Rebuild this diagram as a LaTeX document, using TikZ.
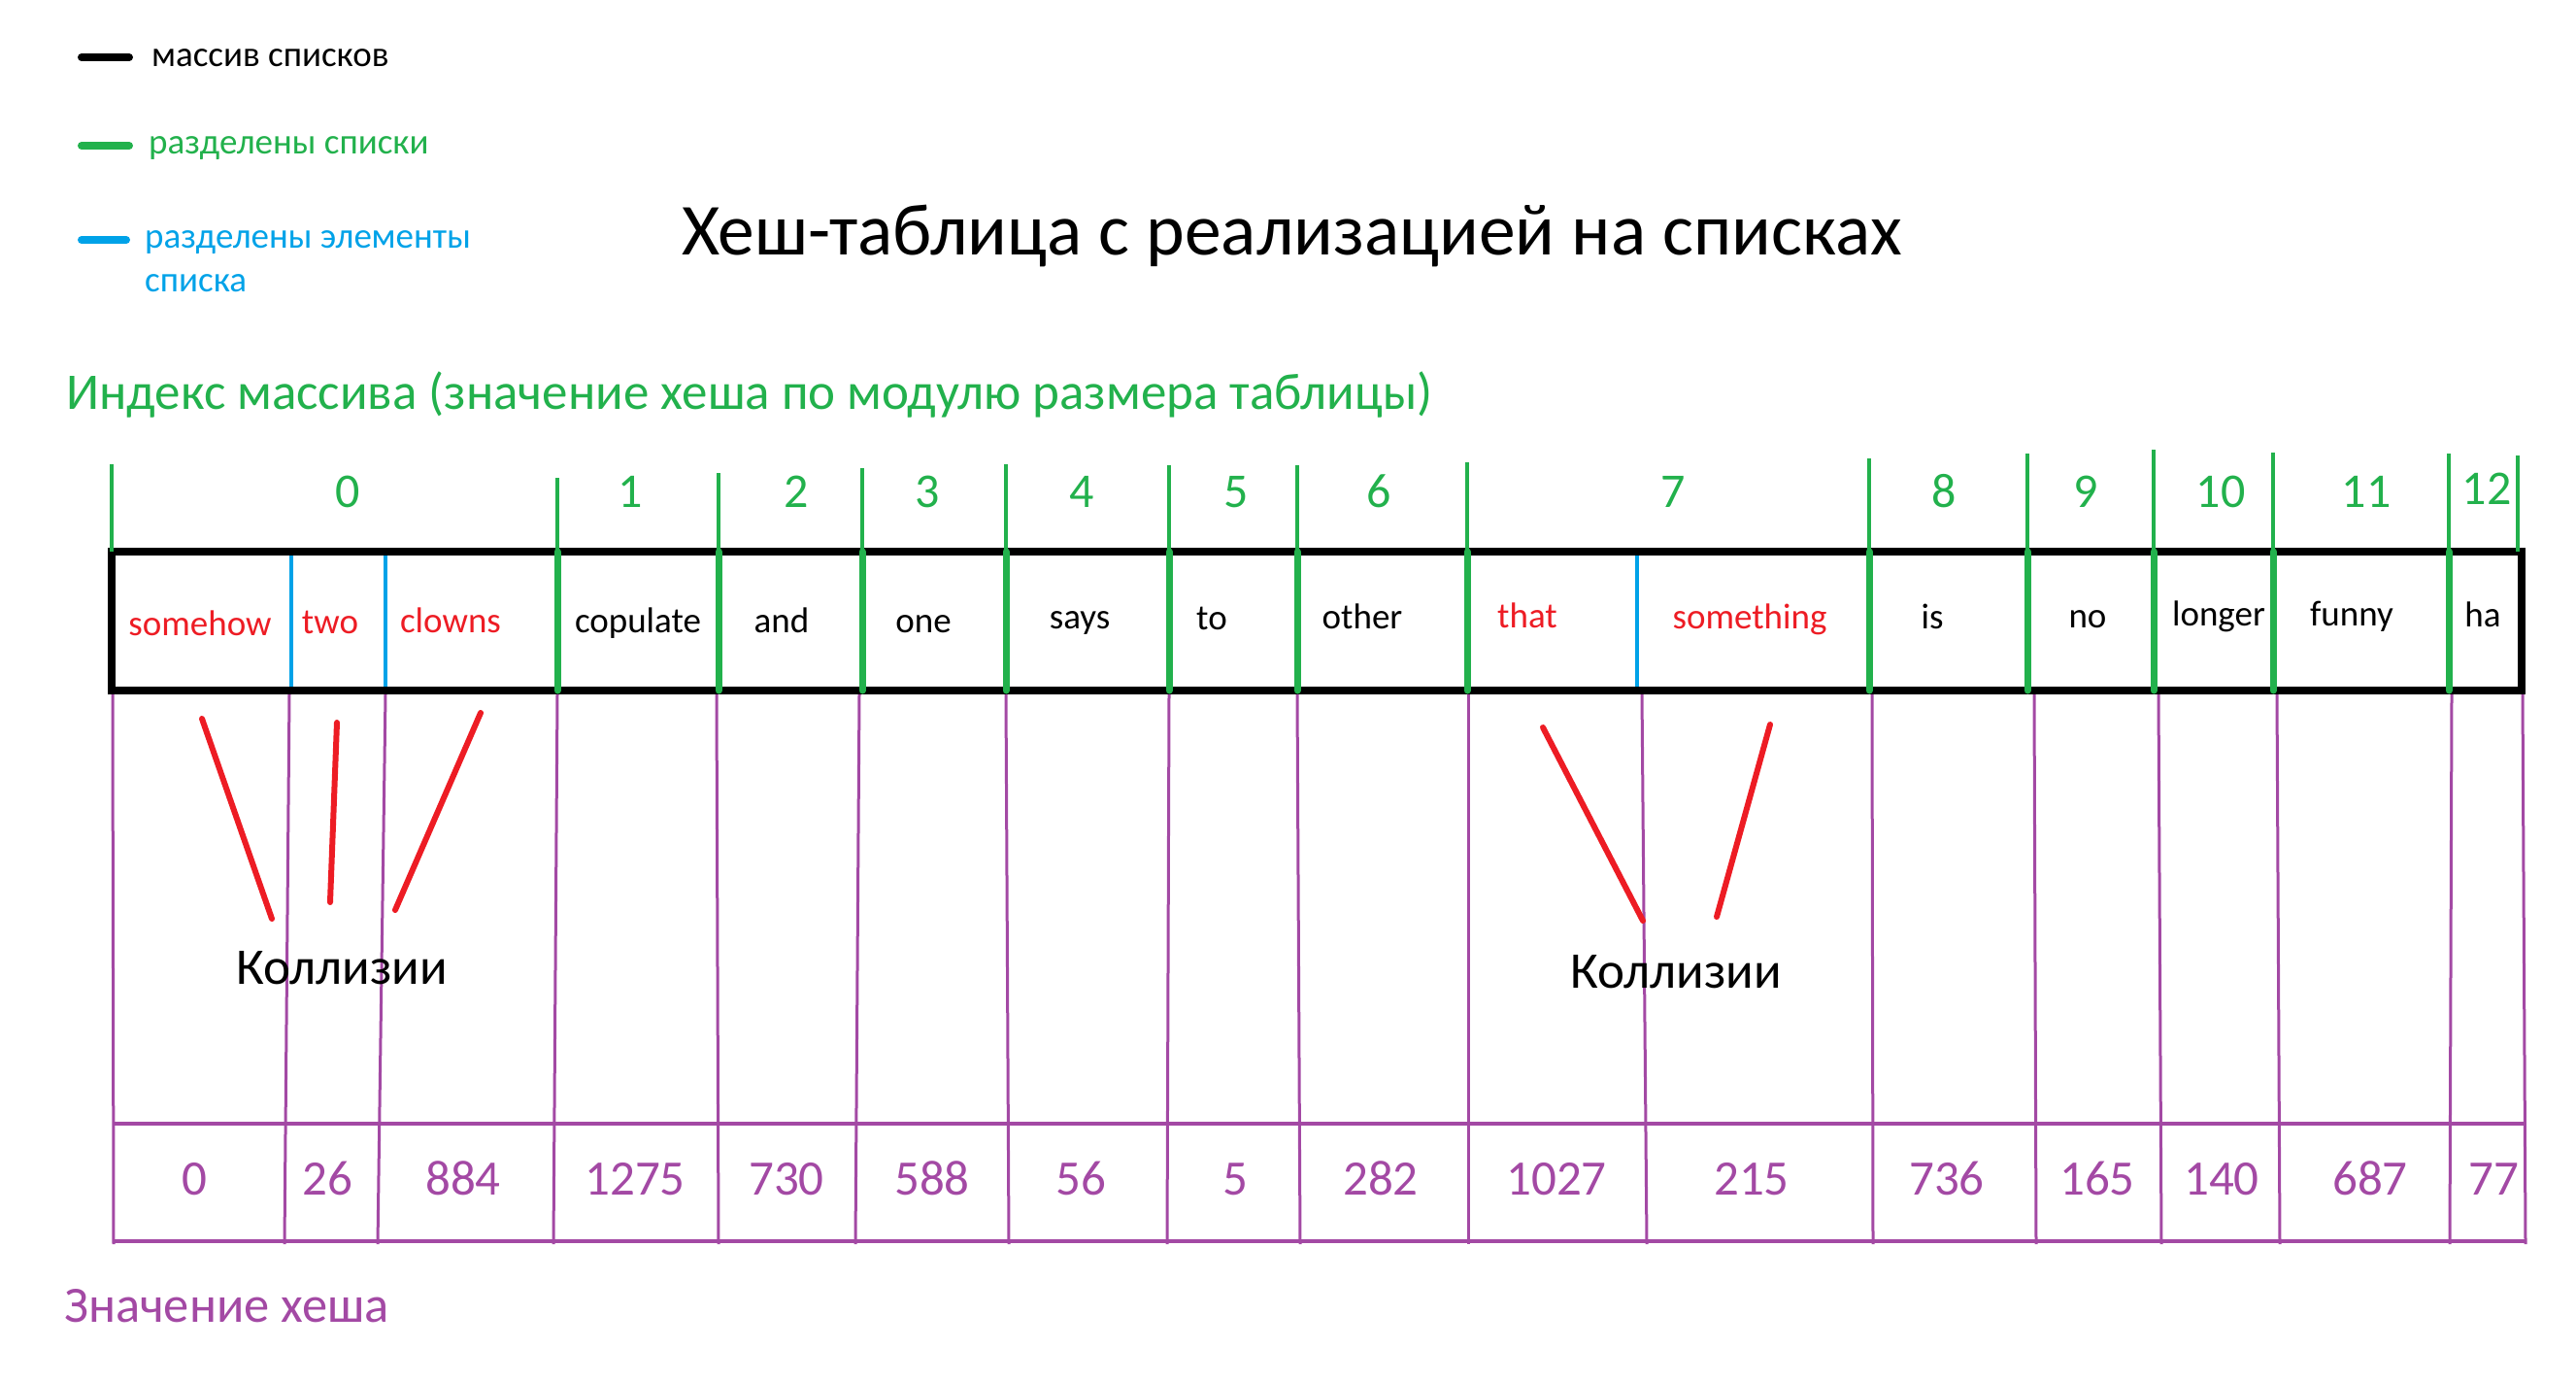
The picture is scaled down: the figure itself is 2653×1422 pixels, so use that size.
\documentclass[tikz,border=0pt]{standalone}
\usepackage{fontspec}
\setmainfont{Carlito}
\definecolor{pgreen}{RGB}{34,177,76}
\definecolor{pred}{RGB}{237,28,36}
\definecolor{pblue}{RGB}{0,162,232}
\definecolor{ppurple}{RGB}{163,73,164}

\begin{document}
\begin{tikzpicture}[x=1pt,y=-1pt,
  lgd/.style={anchor=base west,inner sep=0pt,font=\fontsize{37}{40}\selectfont},
  wrd/.style={anchor=base,inner sep=0pt,font=\fontsize{37}{40}\selectfont},
  idx/.style={anchor=base,inner sep=0pt,text=pgreen,font=\fontsize{50}{55}\selectfont},
  hsh/.style={anchor=base,inner sep=0pt,text=ppurple,font=\fontsize{51}{55}\selectfont},
  grn/.style={pgreen,line width=4pt},
  grnb/.style={pgreen,line width=7pt,line cap=round},
  blu/.style={pblue,line width=4pt},
  pur/.style={ppurple,line width=3pt},
  col/.style={pred,line width=6pt,line cap=round}]
\useasboundingbox (0,0) rectangle (2653,1422);

\coordinate (l1a) at (84,59);  \coordinate (l1b) at (133,59);
\coordinate (l2a) at (84,150); \coordinate (l2b) at (133,150);
\coordinate (l3a) at (84,247); \coordinate (l3b) at (130,247);
\draw[line width=8pt,line cap=round] (l1a) -- (l1b);
\draw[pgreen,line width=8pt,line cap=round] (l2a) -- (l2b);
\draw[pblue,line width=8pt,line cap=round] (l3a) -- (l3b);
\node[lgd] (t1) at (156,68) {массив списков};
\node[lgd,text=pgreen] (t2) at (153,158) {разделены списки};
\node[lgd,text=pblue] (t3) at (149,255) {разделены элементы};
\node[lgd,text=pblue] (t4) at (149,300) {списка};

\node[anchor=base west,inner sep=0pt,font=\fontsize{75.5}{80}\selectfont] (ttl) at (702,262) {Хеш-таблица с реализацией на списках};
\node[anchor=base west,inner sep=0pt,text=pgreen,font=\fontsize{53}{58}\selectfont] (sub) at (68,421) {Индекс массива (значение хеша по модулю размера таблицы)};

\draw[line width=8pt] (115,568) rectangle (2597,711);

\draw[grn] (115,478) -- (115,568);
\draw[grn] (574,492) -- (574,568);   \draw[grnb] (574,568) -- (574,711);
\draw[grn] (740,487) -- (740,568);   \draw[grnb] (740,568) -- (740,711);
\draw[grn] (888,482) -- (888,568);   \draw[grnb] (888,568) -- (888,711);
\draw[grn] (1036,478) -- (1036,568); \draw[grnb] (1036,568) -- (1036,711);
\draw[grn] (1204,479) -- (1204,568); \draw[grnb] (1204,568) -- (1204,711);
\draw[grn] (1336,479) -- (1336,568); \draw[grnb] (1336,568) -- (1336,711);
\draw[grn] (1511,476) -- (1511,568); \draw[grnb] (1511,568) -- (1511,711);
\draw[grn] (1925,472) -- (1925,568); \draw[grnb] (1925,568) -- (1925,711);
\draw[grn] (2088,467) -- (2088,568); \draw[grnb] (2088,568) -- (2088,711);
\draw[grn] (2218,463) -- (2218,568); \draw[grnb] (2218,568) -- (2218,711);
\draw[grn] (2341,466) -- (2341,568); \draw[grnb] (2341,568) -- (2341,711);
\draw[grn] (2522,467) -- (2522,568); \draw[grnb] (2522,568) -- (2522,711);
\draw[grn] (2593,469) -- (2593,568);
\draw[blu] (300,572) -- (300,707);
\draw[blu] (397,572) -- (397,707);
\draw[blu] (1686,572) -- (1686,707);

\draw[pur] (116,715) -- (117,1281);
\draw[pur] (298,715) -- (293,1281);
\draw[pur] (397,715) -- (389,1281);
\draw[pur] (574,715) -- (570,1281);
\draw[pur] (738,715) -- (740,1281);
\draw[pur] (885,715) -- (881,1281);
\draw[pur] (1036,715) -- (1039,1281);
\draw[pur] (1204,715) -- (1202,1281);
\draw[pur] (1336,715) -- (1339,1281);
\draw[pur] (1512,715) -- (1512,1281);
\draw[pur] (1691,715) -- (1696,1281);
\draw[pur] (1928,715) -- (1929,1281);
\draw[pur] (2095,715) -- (2097,1281);
\draw[pur] (2223,715) -- (2226,1281);
\draw[pur] (2345,715) -- (2348,1281);
\draw[pur] (2525,715) -- (2523,1281);
\draw[pur] (2598,715) -- (2601,1281);
\draw[pur,line width=4pt] (117,1157) -- (2601,1157);
\draw[pur,line width=4pt] (117,1278) -- (2601,1278);

\node[idx] (i0) at (358,522) {0};
\node[idx] (i1) at (649,522) {1};
\node[idx] (i2) at (820,522) {2};
\node[idx] (i3) at (955,522) {3};
\node[idx] (i4) at (1114,522) {4};
\node[idx] (i5) at (1273,522) {5};
\node[idx] (i6) at (1420,522) {6};
\node[idx] (i7) at (1723,522) {7};
\node[idx] (i8) at (2002,522) {8};
\node[idx] (i9) at (2148,522) {9};
\node[idx] (i10) at (2287,522) {10};
\node[idx] (i11) at (2437,522) {11};
\node[idx] (i12) at (2561,519) {12};

\node[wrd,text=pred] (w1) at (206,654) {somehow};
\node[wrd,text=pred] (w2) at (340,652) {two};
\node[wrd,text=pred] (w3) at (464,651) {clowns};
\node[wrd] (w4) at (657,651) {copulate};
\node[wrd] (w5) at (805,651) {and};
\node[wrd] (w6) at (951,651) {one};
\node[wrd] (w7) at (1112,647) {says};
\node[wrd] (w8) at (1248,648) {to};
\node[wrd] (w9) at (1403,647) {other};
\node[wrd,text=pred] (w10) at (1573,646) {that};
\node[wrd,text=pred] (w11) at (1802,647) {something};
\node[wrd] (w12) at (1990,647) {is};
\node[wrd] (w13) at (2150,646) {no};
\node[wrd] (w14) at (2285,644) {longer};
\node[wrd] (w15) at (2422,644) {funny};
\node[wrd] (w16) at (2557,645) {ha};

\coordinate (c1) at (208,740);  \coordinate (c2) at (280,946);
\coordinate (c3) at (347,744);  \coordinate (c4) at (340,929);
\coordinate (c5) at (495,734);  \coordinate (c6) at (407,937);
\coordinate (c7) at (1589,749); \coordinate (c8) at (1692,948);
\coordinate (c9) at (1823,746); \coordinate (c10) at (1768,944);
\draw[col] (c1) -- (c2);
\draw[col] (c3) -- (c4);
\draw[col] (c5) -- (c6);
\draw[col] (c7) -- (c8);
\draw[col] (c9) -- (c10);
\node[anchor=base,inner sep=0pt,font=\fontsize{53}{58}\selectfont] (k1) at (352,1013) {Коллизии};
\node[anchor=base,inner sep=0pt,font=\fontsize{53}{58}\selectfont] (k2) at (1726,1017) {Коллизии};

\node[hsh] (h1) at (200,1230) {0};
\node[hsh] (h2) at (337,1230) {26};
\node[hsh] (h3) at (477,1230) {884};
\node[hsh] (h4) at (654,1230) {1275};
\node[hsh] (h5) at (810,1230) {730};
\node[hsh] (h6) at (960,1230) {588};
\node[hsh] (h7) at (1113,1230) {56};
\node[hsh] (h8) at (1272,1230) {5};
\node[hsh] (h9) at (1422,1230) {282};
\node[hsh] (h10) at (1603,1230) {1027};
\node[hsh] (h11) at (1804,1230) {215};
\node[hsh] (h12) at (2005,1230) {736};
\node[hsh] (h13) at (2160,1230) {165};
\node[hsh] (h14) at (2288,1230) {140};
\node[hsh] (h15) at (2441,1230) {687};
\node[hsh] (h16) at (2568,1230) {77};
\node[anchor=base west,inner sep=0pt,text=ppurple,font=\fontsize{52.5}{58}\selectfont] (hv) at (66,1361) {Значение хеша};
\end{tikzpicture}
\end{document}
